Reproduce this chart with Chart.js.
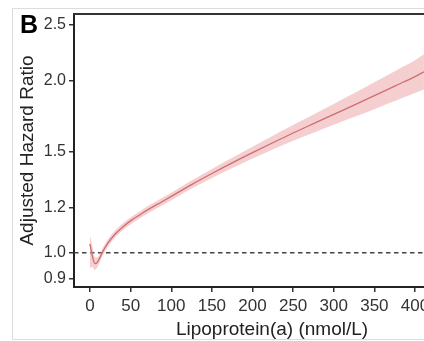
<!DOCTYPE html>
<html>
<head>
<meta charset="utf-8">
<script src="https://cdn.jsdelivr.net/npm/chart.js@4"></script>
<style>
  html, body { margin: 0; padding: 0; background: #fff; overflow: hidden; }
  body { width: 424px; height: 341px; position: relative; }
  #frame { position: absolute; left: 12px; top: 8px; width: 500px; height: 330px; border: 1px solid #dcdcdc; }
  #wrap { position: absolute; left: 0; top: 0; width: 470px; height: 341px; }
</style>
</head>
<body>
<div id="frame"></div>
<div id="wrap"><canvas id="myChart"></canvas></div>
<script>
// Lp(a) values and the spline estimate with its 95% band
const lpa = [0, 3, 6, 9, 15, 22, 31, 40, 52, 62, 72, 88, 100, 125, 150, 175, 200, 225, 250, 275, 300, 325, 350, 375, 400, 411];
const hr = [1.035, 0.985, 0.957, 0.962, 1.0, 1.039, 1.078, 1.108, 1.142, 1.166, 1.19, 1.226, 1.254, 1.315, 1.375, 1.435, 1.495, 1.556, 1.618, 1.68, 1.744, 1.81, 1.88, 1.954, 2.03, 2.07];
const hrLower = [0.94, 0.945, 0.933, 0.943, 0.984, 1.024, 1.063, 1.093, 1.126, 1.15, 1.173, 1.208, 1.235, 1.294, 1.35, 1.405, 1.46, 1.514, 1.568, 1.619, 1.672, 1.725, 1.781, 1.84, 1.9, 1.93];
const hrUpper = [1.07, 1.025, 0.981, 0.981, 1.016, 1.055, 1.093, 1.124, 1.158, 1.182, 1.207, 1.244, 1.273, 1.336, 1.4, 1.465, 1.531, 1.6, 1.671, 1.743, 1.819, 1.899, 1.984, 2.075, 2.168, 2.22];
const xTicks = [0, 50, 100, 150, 200, 250, 300, 350, 400];
const yTicks = [0.9, 1.0, 1.2, 1.5, 2.0, 2.5];
const refLevel = 1.0;
const xMin = -19.7, xMax = 467.7;
const yMin = 0.871, yMax = 2.611;

const toPts = (ys) => lpa.map((x, i) => ({ x: x, y: ys[i] }));
const fontFamily = "'Liberation Sans', Arial, Helvetica, sans-serif";

const framePlugin = {
  id: "frame",
  afterDraw(chart) {
    const { ctx, chartArea } = chart;
    ctx.save();
    ctx.strokeStyle = "#333";
    ctx.lineWidth = 2;
    ctx.beginPath();
    ctx.moveTo(chartArea.left - 1, chartArea.top);
    ctx.lineTo(chartArea.right, chartArea.top);
    ctx.stroke();
    ctx.fillStyle = "#000";
    ctx.font = "bold 25px " + fontFamily;
    ctx.textBaseline = "alphabetic";
    ctx.fillText("B", 20, 33);
    ctx.restore();
  },
};

const ctx = document.getElementById("myChart").getContext("2d");
new Chart(ctx, {
  type: "line",
  data: {
    datasets: [
      {
        label: "upper",
        data: toPts(hrUpper),
        borderWidth: 0,
        pointRadius: 0,
        backgroundColor: "rgba(236, 160, 160, 0.5)",
        fill: "+1",
        cubicInterpolationMode: "monotone",
      },
      {
        label: "lower",
        data: toPts(hrLower),
        borderWidth: 0,
        pointRadius: 0,
        fill: false,
        cubicInterpolationMode: "monotone",
      },
      {
        label: "HR",
        data: toPts(hr),
        borderColor: "#b23a48",
        borderWidth: 1.3,
        pointRadius: 0,
        fill: false,
        cubicInterpolationMode: "monotone",
      },
      {
        label: "ref",
        data: [{ x: xMin, y: refLevel }, { x: xMax, y: refLevel }],
        borderColor: "#444",
        borderWidth: 1.5,
        borderDash: [4.5, 3.5],
        pointRadius: 0,
        fill: false,
      },
    ],
  },
  options: {
    responsive: true,
    maintainAspectRatio: false,
    animation: false,
    layout: { padding: { top: 14, left: 0, right: 0, bottom: 0 } },
    plugins: { legend: { display: false }, tooltip: { enabled: false } },
    scales: {
      x: {
        type: "linear",
        min: xMin,
        max: xMax,
        afterBuildTicks: (scale) => { scale.ticks = xTicks.map((v) => ({ value: v })); },
        afterFit: (scale) => { scale.height = 54; },
        grid: { drawOnChartArea: false, drawTicks: true, tickLength: 5, color: "#333", lineWidth: 1.5 },
        border: { display: true, color: "#222", width: 2 },
        ticks: { color: "#333", padding: 4, maxRotation: 0, font: { family: fontFamily, size: 17 } },
        title: {
          display: true,
          text: "Lipoprotein(a) (nmol/L)",
          color: "#222",
          padding: { top: 0, bottom: 0 },
          font: { family: fontFamily, size: 19 },
        },
      },
      y: {
        type: "logarithmic",
        min: yMin,
        max: yMax,
        afterBuildTicks: (scale) => { scale.ticks = yTicks.map((v) => ({ value: v })); },
        afterFit: (scale) => { scale.width = 74; },
        grid: { drawOnChartArea: false, drawTicks: true, tickLength: 5, color: "#333", lineWidth: 1.5 },
        border: { display: true, color: "#222", width: 2 },
        ticks: {
          color: "#333",
          padding: 3,
          font: { family: fontFamily, size: 16 },
          callback: (v) => Number(v).toFixed(1),
        },
        title: {
          display: true,
          text: "Adjusted Hazard Ratio",
          color: "#222",
          padding: { top: 16, bottom: 0 },
          font: { family: fontFamily, size: 19 },
        },
      },
    },
  },
  plugins: [framePlugin],
});
</script>
</body>
</html>
